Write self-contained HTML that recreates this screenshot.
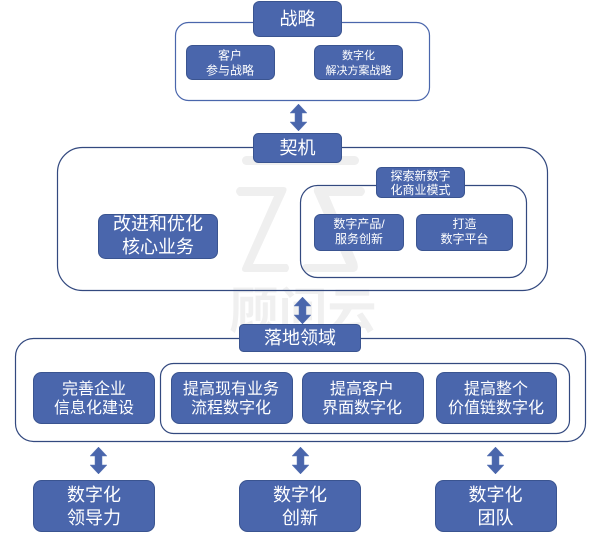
<!DOCTYPE html>
<html lang="zh">
<head>
<meta charset="utf-8">
<style>
html,body{margin:0;padding:0;background:#fff;}
svg{display:block;}
text{font-family:"Liberation Sans","Noto Sans CJK SC",sans-serif;fill:#fff;text-anchor:middle;}
.wm{fill:#efefef;}
.o{fill:none;stroke:#33497f;stroke-width:1.2;}
.o2{fill:none;stroke:#4a66ac;stroke-width:1.2;}
.b{fill:#4a66ac;stroke:#3a5490;stroke-width:1;}
.a{fill:#4a66ac;stroke:#5f7ab8;stroke-width:.5;}
</style>
</head>
<body>
<svg width="607" height="536" viewBox="0 0 607 536" xmlns="http://www.w3.org/2000/svg">
<defs>
<path id="arr" d="M8.5 0L17 9H12V18H17L8.5 27L0 18H5V9H0Z"/>
</defs>

<!-- watermark -->
<rect class="wm" x="242" y="156" width="117" height="9" rx="4.5"/>
<path class="wm" d="M239 187H283Q288 187 286 192L253 264H287Q291 268 287 272H246Q240 272 243 266L274 196H239Q233 191 239 187Z"/>
<path class="wm" d="M317 187H362Q368 191 362 196H329L357 262Q360 272 352 272H305Q298 268 305 264H346L314 192Q313 187 317 187Z"/>
<text x="303" y="328" font-size="49" font-weight="700" style="fill:#f0f0f0">顾问云</text>

<!-- outer containers -->
<rect class="o2" x="175.5" y="22.5" width="254" height="78" rx="13"/>
<rect class="o" x="57.5" y="147.5" width="490" height="143" rx="25"/>
<rect class="o" x="300.5" y="185.5" width="226" height="92" rx="17"/>
<rect class="o" x="15.5" y="338.5" width="570" height="103" rx="18"/>
<rect class="o" x="160.5" y="363.5" width="409" height="70" rx="13"/>

<!-- arrows -->
<use class="a" href="#arr" x="290" y="104"/>
<use class="a" href="#arr" x="294" y="297"/>
<use class="a" href="#arr" x="90" y="447"/>
<use class="a" href="#arr" x="292" y="447"/>
<use class="a" href="#arr" x="487" y="447"/>

<!-- strategy -->
<rect class="b" x="253.5" y="1.5" width="88" height="35" rx="6"/>
<text x="297.5" y="25" font-size="18">战略</text>
<rect class="b" x="186.5" y="45.5" width="88" height="34" rx="6"/>
<text x="230" y="59.5" font-size="12">客户</text>
<text x="230" y="74.5" font-size="12">参与战略</text>
<rect class="b" x="314.5" y="45.5" width="88" height="34" rx="6"/>
<text x="358.5" y="59" font-size="11">数字化</text>
<text x="358.5" y="74" font-size="11">解决方案战略</text>

<!-- trigger -->
<rect class="b" x="253.5" y="133.5" width="88" height="29" rx="5"/>
<text x="297.5" y="154" font-size="18">契机</text>
<rect class="b" x="98.5" y="214.5" width="119" height="44" rx="7"/>
<text x="158" y="230" font-size="18">改进和优化</text>
<text x="158" y="253" font-size="18">核心业务</text>
<rect class="b" x="376.5" y="167.5" width="88" height="30" rx="5"/>
<text x="420.5" y="180" font-size="12">探索新数字</text>
<text x="420.5" y="194" font-size="12">化商业模式</text>
<rect class="b" x="314.5" y="214.5" width="89" height="36" rx="6"/>
<text x="359" y="228" font-size="12">数字产品/</text>
<text x="359" y="243" font-size="12">服务创新</text>
<rect class="b" x="416.5" y="214.5" width="96" height="36" rx="6"/>
<text x="464.5" y="228" font-size="12">打造</text>
<text x="464.5" y="243" font-size="12">数字平台</text>

<!-- landing -->
<rect class="b" x="239.5" y="324.5" width="121" height="27" rx="4"/>
<text x="300" y="344" font-size="18">落地领域</text>
<rect class="b" x="33.5" y="372.5" width="121" height="51" rx="8"/>
<text x="94" y="394" font-size="16">完善企业</text>
<text x="94" y="413" font-size="16">信息化建设</text>
<rect class="b" x="171.5" y="372.5" width="121" height="51" rx="8"/>
<text x="231" y="394" font-size="16">提高现有业务</text>
<text x="231" y="413" font-size="16">流程数字化</text>
<rect class="b" x="302.5" y="372.5" width="121" height="51" rx="8"/>
<text x="362" y="394" font-size="16">提高客户</text>
<text x="362" y="413" font-size="16">界面数字化</text>
<rect class="b" x="436.5" y="372.5" width="120" height="51" rx="8"/>
<text x="496" y="394" font-size="16">提高整个</text>
<text x="496" y="413" font-size="16">价值链数字化</text>

<!-- bottom -->
<rect class="b" x="33.5" y="480.5" width="121" height="51" rx="8"/>
<text x="94" y="501" font-size="18">数字化</text>
<text x="94" y="524" font-size="18">领导力</text>
<rect class="b" x="239.5" y="480.5" width="121" height="51" rx="8"/>
<text x="300" y="501" font-size="18">数字化</text>
<text x="300" y="524" font-size="18">创新</text>
<rect class="b" x="435.5" y="480.5" width="121" height="51" rx="8"/>
<text x="495.5" y="501" font-size="18">数字化</text>
<text x="495.5" y="524" font-size="18">团队</text>
</svg>
</body>
</html>
